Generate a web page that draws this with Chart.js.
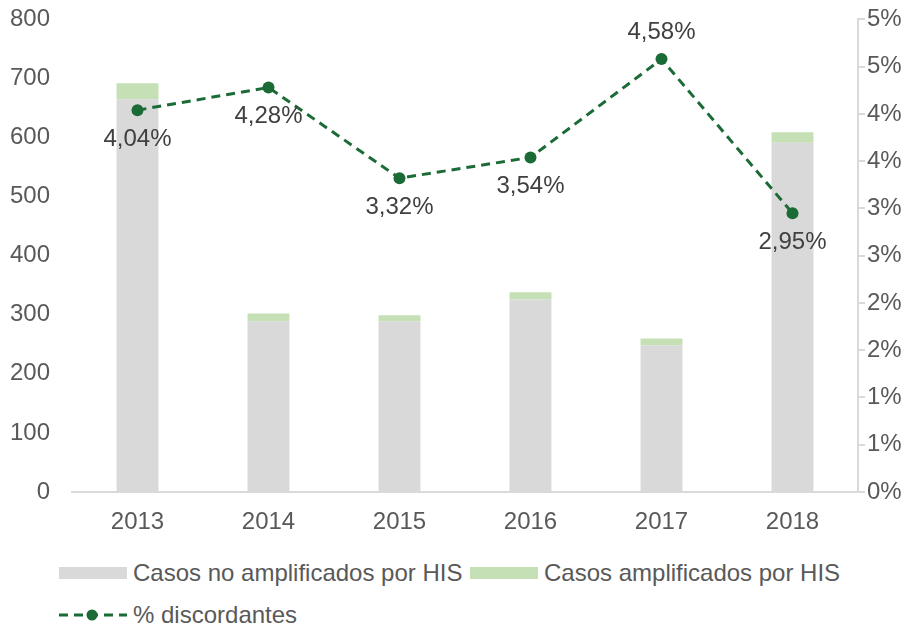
<!DOCTYPE html>
<html>
<head>
<meta charset="utf-8">
<script src="https://cdn.jsdelivr.net/npm/chart.js@4.4.0/dist/chart.umd.min.js"></script>
<style>
  body { margin: 0; background: #fff; font-family: "Liberation Sans", Arial, sans-serif; }
  #wrap { position: relative; width: 916px; height: 625px; overflow: hidden; }
  #chartCanvas { position: absolute; left: 0; top: -9px; }
  .leg { position: absolute; font-size: 24px; color: #595959; white-space: nowrap; line-height: 24px; }
  .box { display: inline-block; width: 68px; height: 12px; vertical-align: middle; margin-right: 6px; position: relative; top: -2px; }
</style>
</head>
<body>
<div id="wrap">
  <canvas id="chartCanvas" width="916" height="554"></canvas>
  <div class="leg" style="left:59px; top:561px;"><span class="box" style="background:#d9d9d9"></span>Casos no amplificados por HIS</div>
  <div class="leg" style="left:470px; top:561px;"><span class="box" style="background:#c5e0b4"></span>Casos amplificados por HIS</div>
  <div class="leg" style="left:59px; top:603px;">
    <svg width="68" height="14" style="vertical-align:middle; margin-right:6px; position:relative; top:-2px">
      <line x1="0" y1="7" x2="68" y2="7" stroke="#1b6b36" stroke-width="3" stroke-dasharray="9,6"/>
      <circle cx="33" cy="7" r="5.5" fill="#1b6b36"/>
    </svg>% discordantes</div>
</div>
<script>
// data
const years = ['2013', '2014', '2015', '2016', '2017', '2018'];
const noAmplificados = [665, 289, 289, 326, 248, 591];
const amplificados = [27, 13, 10, 12, 12, 18];
const discordantes = [4.04, 4.28, 3.32, 3.54, 4.58, 2.95];
const labelAbove = [false, false, false, false, true, false];

const GREEN = '#1b6b36';
const TICK = '#595959';

// draws the % labels next to the line points
const pctLabels = {
    id: 'pctLabels',
    afterDatasetsDraw(chart) {
        const meta = chart.getDatasetMeta(2);
        const ctx = chart.ctx;
        ctx.save();
        ctx.font = '24px "Liberation Sans", Arial, sans-serif';
        ctx.fillStyle = '#404040';
        ctx.textAlign = 'center';
        ctx.textBaseline = 'middle';
        meta.data.forEach((pt, i) => {
            const txt = discordantes[i].toFixed(2).replace('.', ',') + '%';
            const dy = labelAbove[i] ? -27 : 29;
            ctx.fillText(txt, pt.x, pt.y + dy);
        });
        ctx.restore();
    }
};

const ctx = document.getElementById('chartCanvas').getContext('2d');
new Chart(ctx, {
    type: 'bar',
    data: {
        labels: years,
        datasets: [
            {
                label: 'Casos no amplificados por HIS',
                data: noAmplificados,
                backgroundColor: '#d9d9d9',
                stack: 's',
                yAxisID: 'y',
                order: 2
            },
            {
                label: 'Casos amplificados por HIS',
                data: amplificados,
                backgroundColor: '#c5e0b4',
                stack: 's',
                yAxisID: 'y',
                order: 2
            },
            {
                type: 'line',
                label: '% discordantes',
                data: discordantes,
                borderColor: GREEN,
                backgroundColor: GREEN,
                borderWidth: 3,
                borderDash: [9, 6],
                pointRadius: 6,
                pointHoverRadius: 6,
                pointBackgroundColor: GREEN,
                pointBorderWidth: 0,
                yAxisID: 'y2',
                order: 1
            }
        ]
    },
    plugins: [pctLabels],
    options: {
        responsive: false,
        animation: false,
        layout: { padding: { top: 1, left: 0, right: 0, bottom: 0 } },
        datasets: { bar: { categoryPercentage: 1, barPercentage: 0.32 } },
        plugins: { legend: { display: false }, tooltip: { enabled: false } },
        scales: {
            x: {
                stacked: true,
                grid: { display: false },
                border: { display: true, color: '#d9d9d9', width: 2 },
                ticks: { color: TICK, font: { size: 24, family: '"Liberation Sans", Arial' }, padding: 8 },
                afterFit(s) { s.height = 53; }
            },
            y: {
                stacked: true,
                position: 'left',
                min: 0, max: 800,
                grid: { display: false },
                border: { display: false },
                ticks: { stepSize: 100, color: TICK, font: { size: 24, family: '"Liberation Sans", Arial' }, padding: 14 },
                afterFit(s) { s.width = 72; }
            },
            y2: {
                position: 'right',
                min: 0, max: 5,
                grid: { drawOnChartArea: false, drawTicks: true, tickLength: 7, color: '#d9d9d9', lineWidth: 2 },
                border: { display: true, color: '#d9d9d9', width: 2 },
                ticks: {
                    stepSize: 0.5,
                    color: TICK,
                    font: { size: 24, family: '"Liberation Sans", Arial' },
                    padding: 2,
                    callback: v => Math.round(v) + '%'
                },
                afterFit(s) { s.width = 58; }
            }
        }
    }
});
</script>
</body>
</html>
